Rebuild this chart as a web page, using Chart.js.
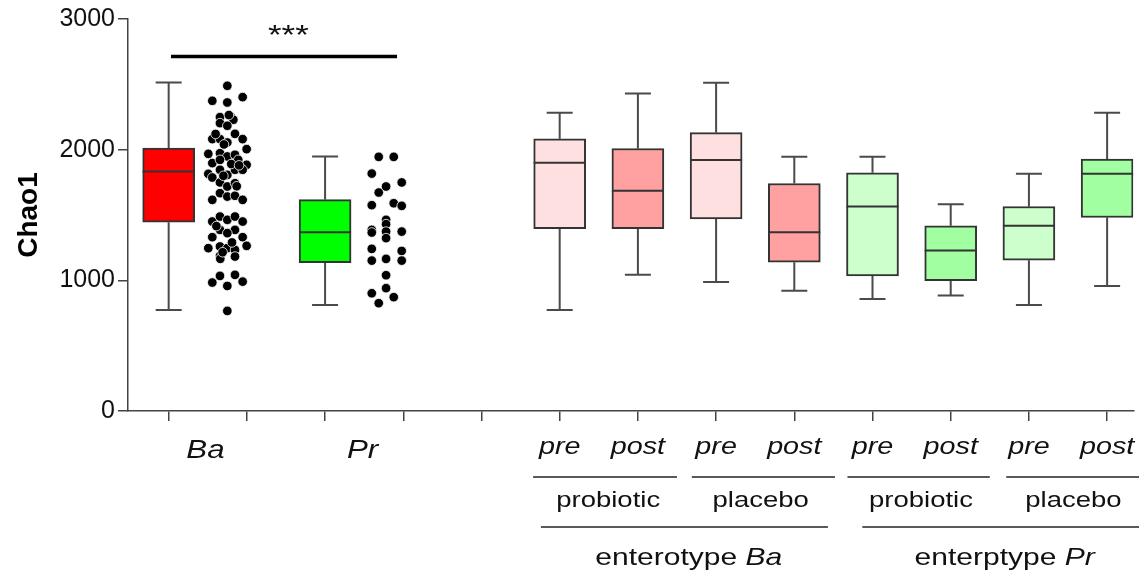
<!DOCTYPE html>
<html>
<head>
<meta charset="utf-8">
<script src="https://cdn.jsdelivr.net/npm/chart.js@4"></script>
<style>
  body { margin: 0; background: #fff; }
  #wrap { width: 1139px; height: 581px; }
</style>
</head>
<body>
<div id="wrap"><canvas id="chao"></canvas></div>
<script>
// ---- data ----
const boxNames   = ['Ba', 'Pr', 'pre', 'post', 'pre', 'post', 'pre', 'post', 'pre', 'post'];
const whiskerLow = [773, 812, 773, 1042, 988, 921, 858, 883, 812, 957];
const q1         = [1445, 1136, 1396, 1396, 1470, 1139, 1034, 998, 1154, 1481];
const median     = [1833, 1368, 1899, 1685, 1920, 1368, 1565, 1228, 1417, 1815];
const q3         = [2012, 1618, 2083, 2009, 2131, 1741, 1823, 1417, 1565, 1928];
const whiskerHigh= [2514, 1948, 2282, 2430, 2512, 1945, 1945, 1583, 1815, 2282];

const treatments = ['probiotic', 'placebo', 'probiotic', 'placebo'];
const enterotypes = [['enterotype ', 'Ba'], ['enterptype ', 'Pr']];
const yTicks = [0, 1000, 2000, 3000];

// individual Chao1 values (scatter columns) and their horizontal jitter
const baValues = [
  2489, 2374, 2361, 2402, 2249, 2254, 2229, 2203, 2183, 2121,
  2081, 2081, 2055, 2081, 2004, 1968, 1973, 1948, 1961, 1897,
  1922, 1922, 1884, 1815, 1846, 1807, 1846, 1846, 1787, 1749,
  1718, 1743, 1667, 1641, 1647, 1616, 1616, 1450, 1488, 1463,
  1488, 1450, 1386, 1386, 1330, 1361, 1330, 1246, 1259, 1246,
  1233, 1264, 1187, 1182, 1034, 957, 1042, 990, 983, 766,
  2040, 1890, 1165, 2265, 1800, 1720, 1415, 1290, 1215, 1880,
  2120
];
const baJitter = [
  0, -0.192, 0, 0.196, -0.094, 0.043, 0.077, -0.094, 0, 0.098,
  -0.192, -0.094, 0, 0.196, 0.247, -0.243, -0.094, 0, 0.098, -0.192,
  -0.094, 0.14, 0.247, -0.243, -0.094, 0, 0.098, 0.196, -0.192, -0.094,
  0, 0.098, -0.094, 0, 0.098, -0.192, 0.196, -0.192, -0.094, 0,
  0.098, 0.196, -0.094, 0.098, -0.192, 0, 0.196, -0.243, -0.094, 0,
  0.098, 0.247, -0.094, 0.098, -0.094, 0, 0.098, 0.196, -0.192, 0,
  -0.043, 0.05, -0.09, 0.02, -0.05, 0.12, -0.14, 0.06, -0.06, 0.15,
  -0.15
];
const prValues = [
  1945, 1945, 1817, 1749, 1718, 1672, 1575, 1590, 1570, 1463,
  1430, 1386, 1366, 1373, 1373, 1323, 1241, 1225, 1151, 1164,
  1151, 1039, 940, 901, 871, 825
];
const prJitter = [
  -0.094, 0.098, -0.183, 0.2, 0, -0.094, -0.183, 0.098, 0.2, 0,
  0, -0.183, -0.183, 0, 0.2, 0, -0.183, 0.2, -0.183, 0,
  0.2, 0, 0, -0.183, 0.098, -0.094
];

// ---- layout (x in axis units, one unit per slot) ----
const boxPos = [0.5, 2.5, 5.5, 6.5, 7.5, 8.5, 9.5, 10.5, 11.5, 12.5];
const baColumn = 1.25, prColumn = 3.28;
const boxColors = ['#ff0000', '#00ff00', '#ffe0e1', '#ffa1a1', '#ffe0e1', '#ffa1a1',
                   '#ccffcc', '#a1ffa1', '#ccffcc', '#a1ffa1'];
const FONT = "'Liberation Sans', Arial, sans-serif";
const STRETCH = 1.25;

function stretchedText(ctx, parts, cx, y, size) {
  // parts: [[text, italic], ...] drawn centred at cx, widened a little like the original
  ctx.save();
  ctx.textBaseline = 'alphabetic';
  ctx.textAlign = 'left';
  let total = 0;
  parts.forEach(p => {
    ctx.font = (p[1] ? 'italic ' : '') + size + 'px ' + FONT;
    total += ctx.measureText(p[0]).width;
  });
  ctx.translate(cx, y);
  ctx.scale(STRETCH, 1);
  let x = -total / 2;
  parts.forEach(p => {
    ctx.font = (p[1] ? 'italic ' : '') + size + 'px ' + FONT;
    ctx.fillText(p[0], x, 0);
    x += ctx.measureText(p[0]).width;
  });
  ctx.restore();
}

function hline(ctx, x1, x2, y, w) {
  ctx.beginPath();
  ctx.lineWidth = w;
  ctx.moveTo(x1, y);
  ctx.lineTo(x2, y);
  ctx.stroke();
}

const boxExtras = {
  id: 'boxExtras',
  beforeDatasetsDraw(chart) {
    const { ctx, scales: { x, y } } = chart;
    ctx.save();
    ctx.strokeStyle = '#4a4a4a';
    ctx.lineWidth = 2;
    boxPos.forEach((p, i) => {
      const px = x.getPixelForValue(p);
      ctx.beginPath();
      ctx.moveTo(px, y.getPixelForValue(q3[i]));
      ctx.lineTo(px, y.getPixelForValue(whiskerHigh[i]));
      ctx.moveTo(px, y.getPixelForValue(q1[i]));
      ctx.lineTo(px, y.getPixelForValue(whiskerLow[i]));
      ctx.moveTo(px - 13, y.getPixelForValue(whiskerHigh[i]));
      ctx.lineTo(px + 13, y.getPixelForValue(whiskerHigh[i]));
      ctx.moveTo(px - 13, y.getPixelForValue(whiskerLow[i]));
      ctx.lineTo(px + 13, y.getPixelForValue(whiskerLow[i]));
      ctx.stroke();
    });
    ctx.restore();
  },
  afterDatasetsDraw(chart) {
    const { ctx, scales: { x, y } } = chart;
    ctx.save();
    ctx.strokeStyle = '#333';
    ctx.lineWidth = 2;
    boxPos.forEach((p, i) => {
      const px = x.getPixelForValue(p);
      hline(ctx, px - 26, px + 26, y.getPixelForValue(median[i]), 2);
    });

    // significance bar Ba vs Pr
    ctx.strokeStyle = '#000';
    hline(ctx, x.getPixelForValue(0.53), x.getPixelForValue(3.42), y.getPixelForValue(2713), 3.5);
    ctx.fillStyle = '#111';
    stretchedText(ctx, [['***', false]], x.getPixelForValue(2.03), 44, 28);

    // category labels under the axis
    stretchedText(ctx, [['Ba', true]], x.getPixelForValue(0.97), 458, 25);
    stretchedText(ctx, [['Pr', true]], x.getPixelForValue(2.98), 458, 25);
    for (let i = 2; i < boxNames.length; i++) {
      stretchedText(ctx, [[boxNames[i], true]], x.getPixelForValue(boxPos[i]), 454, 23);
    }

    // treatment brackets
    ctx.strokeStyle = '#222';
    const pairs = [[5.16, 7.0], [7.19, 9.02], [9.18, 11.0], [11.21, 12.95]];
    pairs.forEach((pr, k) => {
      hline(ctx, x.getPixelForValue(pr[0]), x.getPixelForValue(pr[1]), 477, 1.5);
      stretchedText(ctx, [[treatments[k], false]],
        x.getPixelForValue(boxPos[2 + 2 * k] + 0.5 + (k % 2 ? 0.07 : 0.12)), 507, 22);
    });

    // enterotype brackets
    const spans = [[5.26, 8.93], [9.37, 12.95]];
    const mids = [7.15, 11.19];
    spans.forEach((s, k) => {
      hline(ctx, x.getPixelForValue(s[0]), x.getPixelForValue(s[1]), 527, 1.5);
      stretchedText(ctx, [[enterotypes[k][0], false], [enterotypes[k][1], true]],
        x.getPixelForValue(mids[k]), 565, 24);
    });
    ctx.restore();
  }
};

const ctx = document.getElementById('chao').getContext('2d');
new Chart(ctx, {
  type: 'bar',
  data: {
    datasets: [
      {
        label: 'boxes',
        data: boxPos.map((p, i) => ({ x: p, y: [q1[i], q3[i]] })),
        backgroundColor: boxColors,
        borderColor: '#333',
        borderWidth: 2,
        borderSkipped: false,
        barThickness: 52,
        order: 2
      },
      {
        type: 'scatter',
        label: 'Ba',
        data: baValues.map((v, i) => ({ x: baColumn + baJitter[i], y: v })),
        backgroundColor: '#000',
        borderColor: '#fff',
        borderWidth: 0.8,
        pointRadius: 4.8,
        order: 1
      },
      {
        type: 'scatter',
        label: 'Pr',
        data: prValues.map((v, i) => ({ x: prColumn + prJitter[i], y: v })),
        backgroundColor: '#000',
        borderColor: '#fff',
        borderWidth: 0.8,
        pointRadius: 4.8,
        order: 1
      }
    ]
  },
  plugins: [boxExtras],
  options: {
    responsive: true,
    maintainAspectRatio: false,
    animation: false,
    layout: { padding: { top: 19, right: 0, left: 0, bottom: 0 } },
    plugins: { legend: { display: false }, tooltip: { enabled: false } },
    scales: {
      x: {
        type: 'linear',
        min: -0.02,
        max: 12.836,
        offset: false,
        afterBuildTicks: s => { s.ticks = boxPos.concat([1.5, 3.5, 4.5]).sort((a, b) => a - b).map(v => ({ value: v })); },
        afterFit: s => { s.height = 170; },
        grid: { offset: false, drawOnChartArea: false, tickLength: 10, color: '#444', lineWidth: 1.5 },
        border: { color: '#444', width: 1.5 },
        ticks: { callback: () => '', padding: 0 }
      },
      y: {
        min: 0,
        max: 3000,
        afterBuildTicks: s => { s.ticks = yTicks.map(v => ({ value: v })); },
        afterFit: s => { s.width = 128; },
        grid: { drawOnChartArea: false, tickLength: 10, color: '#444', lineWidth: 1.5 },
        border: { color: '#444', width: 1.5 },
        ticks: { color: '#111', padding: 3, callback: v => String(v), font: { family: FONT, size: 25 } },
        title: {
          display: true,
          text: 'Chao1',
          color: '#000',
          padding: { top: 12, bottom: 0 },
          font: { family: FONT, size: 28, weight: 'bold' }
        }
      }
    }
  }
});
</script>
</body>
</html>
